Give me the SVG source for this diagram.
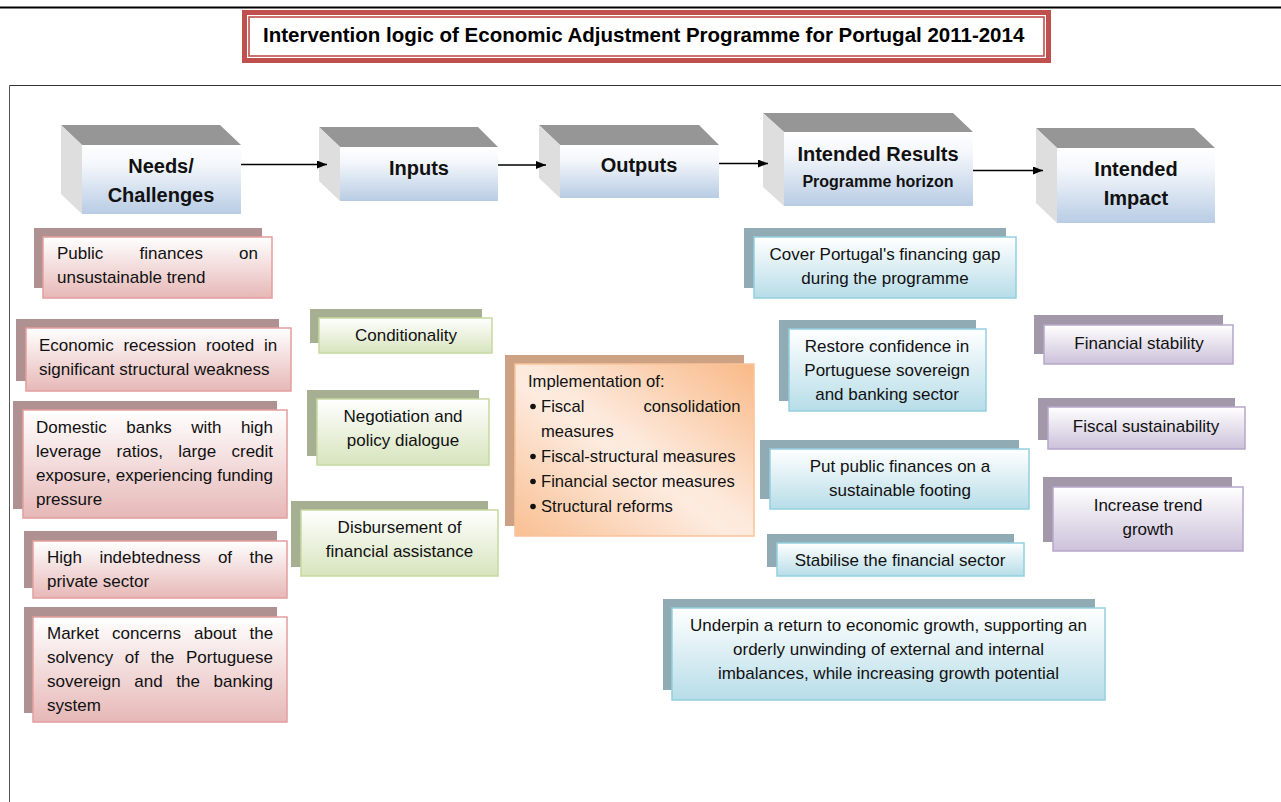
<svg xmlns="http://www.w3.org/2000/svg" width="1281" height="802" viewBox="0 0 1281 802">
  <defs>
    <linearGradient id="gHead" x1="0" y1="0" x2="0" y2="1">
      <stop offset="0" stop-color="#ffffff"/>
      <stop offset="0.3" stop-color="#f3f6fb"/>
      <stop offset="1" stop-color="#b8cce4"/>
    </linearGradient>
    <linearGradient id="gRed" x1="0" y1="0" x2="0" y2="1">
      <stop offset="0" stop-color="#ffffff"/>
      <stop offset="1" stop-color="#e6b8b7"/>
    </linearGradient>
    <linearGradient id="gGreen" x1="0" y1="0" x2="0" y2="1">
      <stop offset="0" stop-color="#ffffff"/>
      <stop offset="1" stop-color="#d7e4bd"/>
    </linearGradient>
    <linearGradient id="gBlue" x1="0" y1="0" x2="0" y2="1">
      <stop offset="0" stop-color="#ffffff"/>
      <stop offset="1" stop-color="#b7dde8"/>
    </linearGradient>
    <linearGradient id="gPurple" x1="0" y1="0" x2="0" y2="1">
      <stop offset="0" stop-color="#ffffff"/>
      <stop offset="1" stop-color="#ccc1da"/>
    </linearGradient>
    <linearGradient id="gOrange" x1="1" y1="0" x2="0" y2="1">
      <stop offset="0" stop-color="#f9b987"/>
      <stop offset="0.48" stop-color="#fdeadd"/>
      <stop offset="0.55" stop-color="#fdebdf"/>
      <stop offset="1" stop-color="#f9bf92"/>
    </linearGradient>
    <marker id="arrow" viewBox="0 0 10 8" refX="10" refY="4" markerWidth="10" markerHeight="8" markerUnits="userSpaceOnUse" orient="auto">
      <path d="M0,0 L10,4 L0,8 Z" fill="#000"/>
    </marker>
  </defs>
  <style>
    text { font-family: "Liberation Sans", Arial, sans-serif; font-size: 17px; fill: #111; }
    .c { text-anchor: middle; }
    .hd { font-weight: bold; font-size: 20px; }
    .sub { font-weight: bold; font-size: 16px; }
    .title { font-weight: bold; font-size: 20.5px; fill: #000; }
    .top { fill: #969696; }
    .side { fill: #dedede; }
    .face { fill: url(#gHead); }
    .red .sh { fill: #b09191; }
    .red .fr { fill: url(#gRed); stroke: #e39e9d; stroke-width: 1.5; }
    .green .sh { fill: #a6af92; }
    .green .fr { fill: url(#gGreen); stroke: #c6d9a0; stroke-width: 1.5; }
    .blue .sh { fill: #91abb4; }
    .blue .fr { fill: url(#gBlue); stroke: #93cfdf; stroke-width: 1.5; }
    .purple .sh { fill: #a298a9; }
    .purple .fr { fill: url(#gPurple); stroke: #b6a6ca; stroke-width: 1.5; }
    .orange .sh { fill: #cca184; }
    .orange .fr { fill: url(#gOrange); stroke: #f9c39a; stroke-width: 1.5; }
    .orange text { font-size: 16.6px; }
    .conn { stroke: #000; stroke-width: 1.7; fill: none; }
  </style>

  <rect x="0" y="0" width="1281" height="802" fill="#ffffff"/>

  <!-- page rules and frame -->
  <g id="frame">
    <line x1="0" y1="7.5" x2="1281" y2="7.5" stroke="#000" stroke-width="1.8"/>
    <line x1="9.5" y1="85.5" x2="1281" y2="85.5" stroke="#333" stroke-width="1"/>
    <line x1="9.5" y1="85.5" x2="9.5" y2="802" stroke="#555" stroke-width="1"/>
  </g>

  <!-- title banner -->
  <g id="title">
    <rect x="244.5" y="12.5" width="804" height="48" fill="#fff" stroke="#c0504d" stroke-width="5"/>
    <rect x="249" y="17" width="795" height="39" fill="none" stroke="#c0504d" stroke-width="1.6"/>
    <text class="title" x="263" y="42">Intervention logic of Economic Adjustment Programme for Portugal 2011-2014</text>
  </g>

  <!-- column headers (3D blocks) -->
  <g id="hdr-needs">
    <polygon class="top" points="61,125 220,125 241,145 82,145"/>
    <polygon class="side" points="61,125 82,145 82,214 61,194"/>
    <rect class="face" x="82" y="145" width="159" height="69"/>
    <text class="hd c" x="161" y="173">Needs/</text>
    <text class="hd c" x="161" y="202">Challenges</text>
  </g>
  <g id="hdr-inputs">
    <polygon class="top" points="319,127 478,127 498,147 340,147"/>
    <polygon class="side" points="319,127 340,147 340,201 319,181"/>
    <rect class="face" x="340" y="147" width="158" height="54"/>
    <text class="hd c" x="419" y="175">Inputs</text>
  </g>
  <g id="hdr-outputs">
    <polygon class="top" points="539,125 699,125 719,145 560,145"/>
    <polygon class="side" points="539,125 560,145 560,198 539,178"/>
    <rect class="face" x="560" y="145" width="159" height="53"/>
    <text class="hd c" x="639" y="172">Outputs</text>
  </g>
  <g id="hdr-results">
    <polygon class="top" points="763,113 953,113 973,132 784,132"/>
    <polygon class="side" points="763,113 784,132 784,206 763,187"/>
    <rect class="face" x="784" y="132" width="189" height="74"/>
    <text class="hd c" x="878" y="161">Intended Results</text>
    <text class="sub c" x="878" y="187">Programme horizon</text>
  </g>
  <g id="hdr-impact">
    <polygon class="top" points="1036,128 1194,128 1215,148 1057,148"/>
    <polygon class="side" points="1036,128 1057,148 1057,223 1036,203"/>
    <rect class="face" x="1057" y="148" width="158" height="75"/>
    <text class="hd c" x="1136" y="176">Intended</text>
    <text class="hd c" x="1136" y="205">Impact</text>
  </g>

  <!-- needs / challenges -->
  <g id="need-public-finances" class="red">
    <rect class="sh" x="34" y="228" width="228" height="60"/>
    <rect class="fr" x="43" y="237" width="229" height="61"/>
    <text y="259"><tspan x="57">Public</tspan><tspan x="139.6">finances</tspan><tspan x="239.1">on</tspan></text>
    <text x="57" y="283">unsustainable trend</text>
  </g>
  <g id="need-recession" class="red">
    <rect class="sh" x="16" y="319" width="263" height="62"/>
    <rect class="fr" x="26" y="328" width="265" height="63"/>
    <text y="351"><tspan x="39">Economic</tspan><tspan x="123.4">recession</tspan><tspan x="205.9">rooted</tspan><tspan x="263.9">in</tspan></text>
    <text x="39" y="375">significant structural weakness</text>
  </g>
  <g id="need-banks" class="red">
    <rect class="sh" x="13" y="401" width="264" height="108"/>
    <rect class="fr" x="23" y="410" width="264" height="108"/>
    <text y="433"><tspan x="36">Domestic</tspan><tspan x="126.3">banks</tspan><tspan x="191.2">with</tspan><tspan x="240.9">high</tspan></text>
    <text y="457"><tspan x="36">leverage</tspan><tspan x="116.6">ratios,</tspan><tspan x="178.3">large</tspan><tspan x="231.5">credit</tspan></text>
    <text y="481"><tspan x="36">exposure,</tspan><tspan x="115.7">experiencing</tspan><tspan x="217.2">funding</tspan></text>
    <text x="36" y="505">pressure</text>
  </g>
  <g id="need-private-debt" class="red">
    <rect class="sh" x="24" y="531" width="253" height="57"/>
    <rect class="fr" x="33" y="541" width="254" height="57"/>
    <text y="563"><tspan x="47">High</tspan><tspan x="99.4">indebtedness</tspan><tspan x="217.9">of</tspan><tspan x="249.5">the</tspan></text>
    <text x="47" y="587">private sector</text>
  </g>
  <g id="need-market-concerns" class="red">
    <rect class="sh" x="24" y="607" width="253" height="106"/>
    <rect class="fr" x="33" y="617" width="254" height="105"/>
    <text y="639"><tspan x="47">Market</tspan><tspan x="112">concerns</tspan><tspan x="194">about</tspan><tspan x="249.5">the</tspan></text>
    <text y="663"><tspan x="47">solvency</tspan><tspan x="124.8">of</tspan><tspan x="150.7">the</tspan><tspan x="186">Portuguese</tspan></text>
    <text y="687"><tspan x="47">sovereign</tspan><tspan x="134.3">and</tspan><tspan x="176.3">the</tspan><tspan x="213.5">banking</tspan></text>
    <text x="47" y="711">system</text>
  </g>

  <!-- inputs -->
  <g id="input-conditionality" class="green">
    <rect class="sh" x="310" y="309" width="172" height="34"/>
    <rect class="fr" x="319" y="318" width="173" height="35"/>
    <text class="c" x="406" y="341">Conditionality</text>
  </g>
  <g id="input-negotiation" class="green">
    <rect class="sh" x="307" y="390" width="172" height="66"/>
    <rect class="fr" x="317" y="399" width="172" height="66"/>
    <text class="c" x="403" y="422">Negotiation and</text>
    <text class="c" x="403" y="446">policy dialogue</text>
  </g>
  <g id="input-disbursement" class="green">
    <rect class="sh" x="291" y="501" width="197" height="66"/>
    <rect class="fr" x="301" y="510" width="197" height="66"/>
    <text class="c" x="399.5" y="533">Disbursement of</text>
    <text class="c" x="399.5" y="557">financial assistance</text>
  </g>

  <!-- outputs -->
  <g id="output-implementation" class="orange">
    <rect class="sh" x="505" y="355" width="239" height="171"/>
    <rect class="fr" x="515" y="364" width="239" height="172"/>
    <text x="528" y="387">Implementation of:</text>
    <circle cx="533" cy="406.5" r="2.8" fill="#111"/>
    <text y="412"><tspan x="541">Fiscal</tspan><tspan x="643.5">consolidation</tspan></text>
    <text x="541" y="437">measures</text>
    <circle cx="533" cy="456.5" r="2.8" fill="#111"/>
    <text x="541" y="462">Fiscal-structural measures</text>
    <circle cx="533" cy="481.5" r="2.8" fill="#111"/>
    <text x="541" y="487">Financial sector measures</text>
    <circle cx="533" cy="506.5" r="2.8" fill="#111"/>
    <text x="541" y="512">Structural reforms</text>
  </g>

  <!-- intended results -->
  <g id="result-financing-gap" class="blue">
    <rect class="sh" x="744" y="228" width="262" height="60"/>
    <rect class="fr" x="754" y="237" width="262" height="61"/>
    <text class="c" x="885" y="260">Cover Portugal's financing gap</text>
    <text class="c" x="885" y="284">during the programme</text>
  </g>
  <g id="result-confidence" class="blue">
    <rect class="sh" x="779" y="320" width="197" height="81"/>
    <rect class="fr" x="789" y="329" width="197" height="82"/>
    <text class="c" x="887" y="352">Restore confidence in</text>
    <text class="c" x="887" y="376">Portuguese sovereign</text>
    <text class="c" x="887" y="400">and banking sector</text>
  </g>
  <g id="result-public-finances" class="blue">
    <rect class="sh" x="760" y="440" width="259" height="59"/>
    <rect class="fr" x="770" y="449" width="259" height="60"/>
    <text class="c" x="900" y="472">Put public finances on a</text>
    <text class="c" x="900" y="496">sustainable footing</text>
  </g>
  <g id="result-financial-sector" class="blue">
    <rect class="sh" x="767" y="534" width="247" height="33"/>
    <rect class="fr" x="777" y="543" width="247" height="33"/>
    <text class="c" x="900" y="566">Stabilise the financial sector</text>
  </g>
  <g id="result-growth" class="blue">
    <rect class="sh" x="663" y="599" width="432" height="91"/>
    <rect class="fr" x="672" y="608" width="433" height="92"/>
    <text class="c" x="888.5" y="631">Underpin a return to economic growth, supporting an</text>
    <text class="c" x="888.5" y="655">orderly unwinding of external and internal</text>
    <text class="c" x="888.5" y="679">imbalances, while increasing growth potential</text>
  </g>

  <!-- intended impact -->
  <g id="impact-financial-stability" class="purple">
    <rect class="sh" x="1034" y="315" width="189" height="39"/>
    <rect class="fr" x="1044" y="325" width="189" height="39"/>
    <text class="c" x="1139" y="349">Financial stability</text>
  </g>
  <g id="impact-fiscal-sustainability" class="purple">
    <rect class="sh" x="1038" y="398" width="197" height="42"/>
    <rect class="fr" x="1048" y="407" width="197" height="42"/>
    <text class="c" x="1146" y="432">Fiscal sustainability</text>
  </g>
  <g id="impact-trend-growth" class="purple">
    <rect class="sh" x="1043" y="477" width="189" height="65"/>
    <rect class="fr" x="1053" y="487" width="190" height="64"/>
    <text class="c" x="1148" y="511">Increase trend</text>
    <text class="c" x="1148" y="535">growth</text>
  </g>

  <!-- flow arrows between column headers -->
  <g id="connectors">
    <line class="conn" x1="241" y1="164.5" x2="327" y2="164.5" marker-end="url(#arrow)"/>
    <line class="conn" x1="498" y1="165" x2="546" y2="165" marker-end="url(#arrow)"/>
    <line class="conn" x1="719" y1="163.5" x2="768" y2="163.5" marker-end="url(#arrow)"/>
    <line class="conn" x1="973" y1="170.5" x2="1043" y2="170.5" marker-end="url(#arrow)"/>
  </g>
</svg>
